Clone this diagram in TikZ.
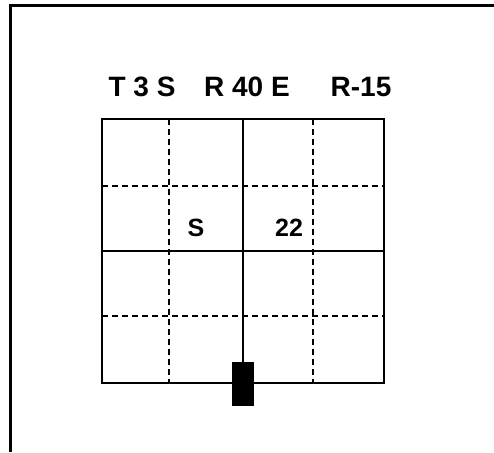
\documentclass[tikz,border=0pt]{standalone}
\usepackage{fontspec}
\setmainfont{Liberation Sans}
\usetikzlibrary{positioning}

\begin{document}
\begin{tikzpicture}[
  x=1pt, y=1pt,
  frame/.style={line width=3pt},
  gridbox/.style={rectangle, draw, line width=1.4pt, inner sep=0pt, outer sep=0pt, minimum width=282pt, minimum height=264pt},
  cell/.style={line width=1.1pt},
  half/.style={line width=1.1pt, dash pattern=on 6pt off 4pt},
  heading/.style={font=\fontsize{28}{30}\selectfont\bfseries, anchor=base, inner sep=0pt},
  celltext/.style={font=\fontsize{25}{27}\selectfont\bfseries, anchor=base, inner sep=0pt},
  car/.style={rectangle, fill=black, inner sep=0pt, minimum width=22pt, minimum height=44pt}
]
\useasboundingbox (0,0) rectangle (494,452);

% Outer frame (top and left only)
\draw[frame] (494,446) -- (10,446) -- (10,0);

% Heading
\node[heading] (tsec) at (142,355) {T 3 S};
\node[heading] (rng) at (247,355) {R 40 E};
\node[heading] (rot) at (361,355) {R-15};

% Section grid
\node[gridbox] (grid) at (243,201) {};
\draw[half] (169,333) -- (169,69);
\draw[half] (313,333) -- (313,69);
\draw[half] (102,266) -- (384,266);
\draw[half] (102,136) -- (384,136);
\draw[cell] (grid.north) -- (grid.south);
\draw[cell] (grid.west) -- (grid.east);

% Labels in the grid
\node[celltext] (sq) at (196,215) {S};
\node[celltext] (num) at (289,215) {22};

% Marker at bottom
\node[car] (car) at (243,68) {};

\end{tikzpicture}
\end{document}
